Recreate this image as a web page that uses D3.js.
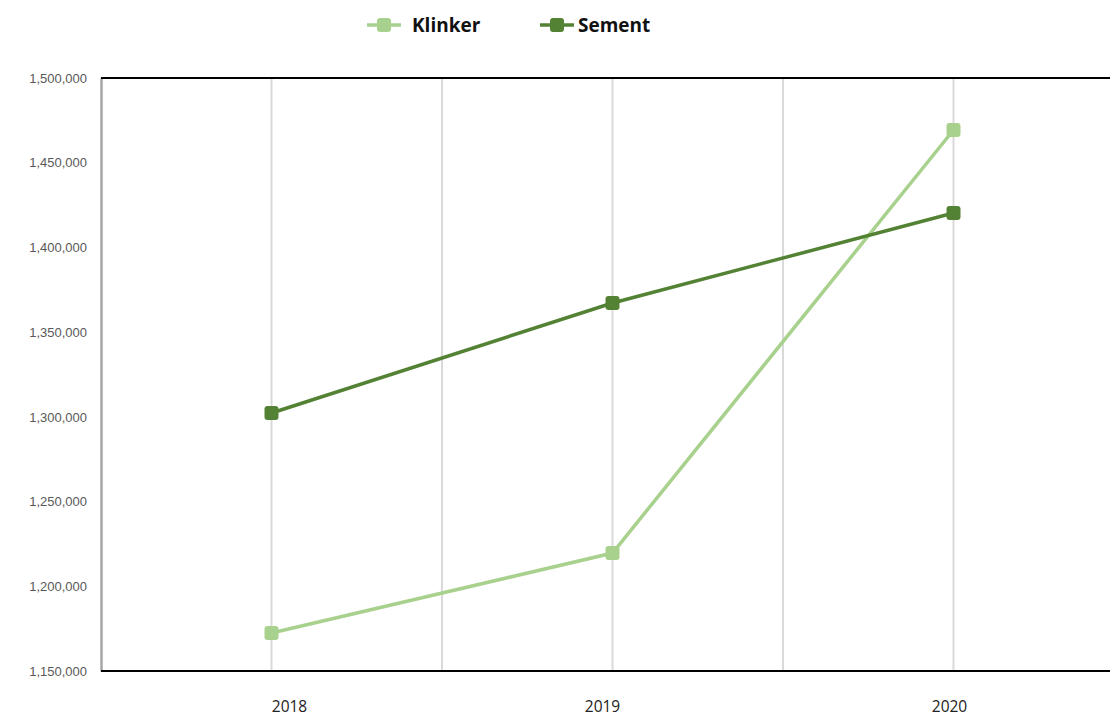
<!DOCTYPE html>
<html><head><meta charset="utf-8">
<script src="https://cdn.jsdelivr.net/npm/d3@7"></script>
<style>body{margin:0;background:#fff}svg{display:block}</style>
</head><body>
<svg id="c" width="1110" height="718"></svg>
<script>
const years = ["2018", "2019", "2020"];
const klinker = [1172400, 1219600, 1469300];
const sement = [1302300, 1367200, 1420300];
const yTicks = [1150000, 1200000, 1250000, 1300000, 1350000, 1400000, 1450000, 1500000];
const seriesNames = ["Klinker", "Sement"];
const seriesColors = ["#a9d18e", "#548235"];

const svg = d3.select("#c");
const L = 101, R = 1124, T = 78, B = 671;
const x = d3.scalePoint().domain(years).range([L, R]).padding(0.5);
const step = x.step();
const y = d3.scaleLinear().domain([1150000, 1500000]).range([B, T]);

// vertical gridlines at categories and midpoints
const gridX = [];
years.forEach((yr, i) => { gridX.push(x(yr)); if (i < years.length - 1) gridX.push(x(yr) + step / 2); });
svg.append("g").selectAll("line").data(gridX).join("line")
  .attr("x1", d => d).attr("x2", d => d).attr("y1", T).attr("y2", B)
  .attr("stroke", "#d9d9d9").attr("stroke-width", 2);

// y axis
const yAxis = d3.axisLeft(y).tickValues(yTicks).tickFormat(d3.format(",")).tickSize(0).tickPadding(14);
const ya = svg.append("g").attr("transform", `translate(${L},0)`).call(yAxis);
ya.select(".domain").attr("stroke", "#a6a6a6").attr("stroke-width", 2.5);
ya.selectAll("text").attr("fill", "#595959").style("font-family", "'Liberation Sans', Arial, sans-serif").style("font-size", "13px");

// top and bottom borders
svg.append("line").attr("x1", L).attr("x2", 1110).attr("y1", T).attr("y2", T).attr("stroke", "#000").attr("stroke-width", 2);
svg.append("line").attr("x1", L).attr("x2", 1110).attr("y1", B).attr("y2", B).attr("stroke", "#000").attr("stroke-width", 2);

// x labels
const labelDx = [18, -10, -4];
svg.append("g").selectAll("text").data(years).join("text")
  .attr("x", (d, i) => x(d) + labelDx[i]).attr("y", 712)
  .attr("text-anchor", "middle").attr("fill", "#222")
  .style("font-family", "'Open Sans', sans-serif").style("font-size", "15.5px").text(d => d);

// series
const data = [klinker, sement];
const line = d3.line().x((d, i) => x(years[i])).y(d => y(d));
data.forEach((vals, s) => {
  const g = svg.append("g");
  g.append("path").attr("d", line(vals)).attr("fill", "none")
    .attr("stroke", seriesColors[s]).attr("stroke-width", 3.5);
  g.selectAll("rect").data(vals).join("rect")
    .attr("x", (d, i) => x(years[i]) - 7).attr("y", d => y(d) - 7)
    .attr("width", 14).attr("height", 14).attr("rx", 3)
    .attr("fill", seriesColors[s]);
});

// legend
const legX = [367, 540];
seriesNames.forEach((n, i) => {
  const g = svg.append("g").attr("transform", `translate(${legX[i]},25)`);
  g.append("line").attr("x1", 0).attr("x2", 34).attr("y1", 0).attr("y2", 0)
    .attr("stroke", seriesColors[i]).attr("stroke-width", 3.5);
  g.append("rect").attr("x", 10).attr("y", -7).attr("width", 14).attr("height", 14).attr("rx", 3).attr("fill", seriesColors[i]);
  g.append("text").attr("x", i === 0 ? 45 : 38).attr("y", 7)
    .style("font-family", "'Open Sans', sans-serif").style("font-size", "19px").style("font-weight", "bold")
    .attr("fill", "#111").text(n);
});
</script>
</body></html>
